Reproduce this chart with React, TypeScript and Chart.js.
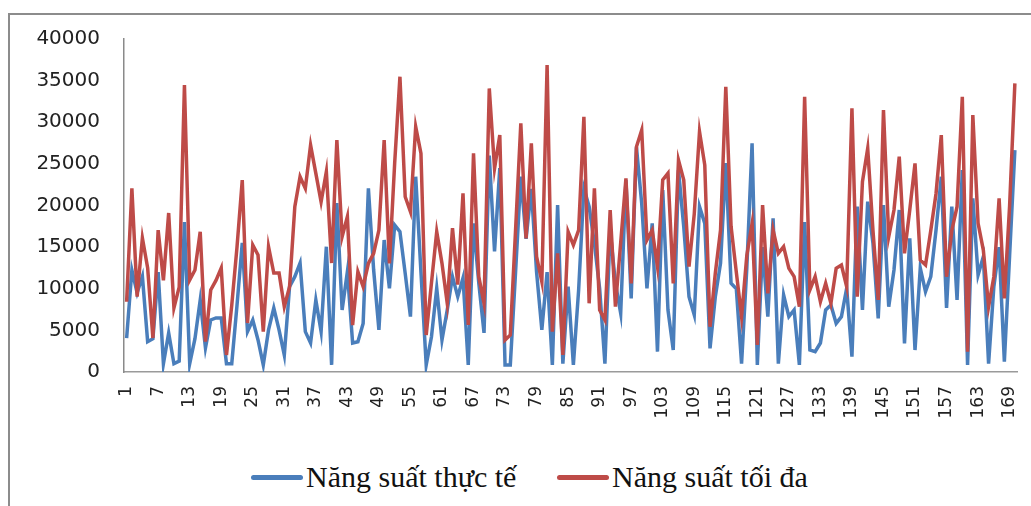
import React, { useEffect, useRef } from "react";
import { Chart, registerables } from "chart.js";

Chart.register(...registerables);

const seriesNames = ["Năng suất thực tế", "Năng suất tối đa"];
const seriesColors = ["#4A7EBB", "#BE4B48"];

const categories: string[] = Array.from({ length: 170 }, (_, i) => String(i + 1));

const actual = [
  4080, 12250, 9500, 11500, 3640, 4000, 12000, 1000, 4700, 1000,
  1300, 18000, 1000, 4000, 8650, 2900, 6250, 6500, 6500, 1000,
  1000, 8000, 15500, 4850, 6250, 3850, 850, 5050, 7690, 5050,
  2040, 10250, 11450, 13090, 4850, 3480, 8650, 4850, 15050, 850,
  20300, 7450, 12050, 3480, 3640, 5840, 22060, 12250, 5050, 15850,
  10050, 17650, 16850, 11850, 6650, 23460, 12000, 850, 4240, 10050,
  3850, 7450, 11450, 9050, 11290, 850, 17850, 10700, 4700, 26000,
  14500, 24500, 850, 850, 12000, 23460, 16000, 22000, 12000, 5050,
  12000, 850, 20050, 1000, 10250, 850, 9850, 22060, 19860, 15450,
  10000, 1000, 17050, 10650, 7050, 23060, 8850, 27000, 20260, 10050,
  17850, 2440, 21860, 7450, 2640, 24260, 17450, 9050, 6850, 19860,
  17850, 2840, 9000, 13090, 25100, 10650, 10000, 1000, 12500, 27460,
  850, 15000, 6650, 18460, 1000, 9250, 6650, 7450, 850, 18000,
  2640, 2440, 3480, 7450, 8050, 5840, 6650, 10050, 1840, 19860,
  7450, 20460, 15450, 6450, 20060, 7850, 12250, 19460, 3440, 16050,
  2640, 12490, 9650, 11450, 17050, 23460, 7690, 19860, 8650, 24260,
  850, 20860, 11650, 13850, 1000, 10250, 15000, 1240, 14000, 26660,
];

const maximum = [
  8440, 22060, 9050, 16090, 12500, 4080, 17050, 11000, 19100, 7700,
  10200, 34470, 11050, 12250, 16850, 3640, 9850, 11000, 12490, 2040,
  8000, 15000, 23060, 5880, 15250, 14050, 4850, 15050, 11890, 11890,
  7850, 10250, 19860, 23460, 22060, 27260, 23860, 20450, 24060, 13090,
  27860, 16250, 18660, 5640, 12050, 10250, 13050, 14250, 17050, 27860,
  13050, 25100, 35470, 21050, 19250, 29460, 26260, 4440, 10700, 16850,
  13050, 8250, 17290, 10500, 21450, 5640, 26260, 11450, 8250, 34060,
  24460, 28460, 3850, 4440, 17050, 29860, 16050, 27460, 13850, 10850,
  36870, 4850, 14250, 2040, 16850, 15250, 17050, 30660, 8250, 22060,
  7450, 6250, 19460, 7850, 15500, 23260, 10650, 27060, 29060, 15850,
  17050, 12650, 23060, 23860, 10650, 25460, 23060, 12650, 19000, 28860,
  24860, 5440, 11850, 17050, 34270, 17500, 12000, 6650, 14000, 17850,
  3240, 20060, 9450, 17050, 14250, 15050, 12450, 11450, 7850, 33060,
  9850, 11450, 8450, 10650, 8250, 12450, 12850, 10250, 31670, 9050,
  22860, 26860, 17000, 8650, 31460, 16250, 19460, 25860, 14250, 19460,
  25060, 13450, 12850, 17000, 21450, 28460, 11450, 17000, 19860, 33060,
  2440, 30860, 17850, 14650, 7850, 11450, 20860, 8850, 20000, 34670,
];

const yMin = 0;
const yMax = 40000;
const yStep = 5000;
const labelEvery = 6;

export default function App() {
  const canvasRef = useRef<HTMLCanvasElement | null>(null);

  useEffect(() => {
    if (!canvasRef.current) return;
    const chart = new Chart(canvasRef.current, {
      type: "line",
      data: {
        labels: categories,
        datasets: [
          {
            label: seriesNames[0],
            data: actual,
            borderColor: seriesColors[0],
            backgroundColor: seriesColors[0],
            borderWidth: 3.5,
            pointRadius: 0,
            tension: 0,
            order: 1,
          },
          {
            label: seriesNames[1],
            data: maximum,
            borderColor: seriesColors[1],
            backgroundColor: seriesColors[1],
            borderWidth: 3.5,
            pointRadius: 0,
            tension: 0,
            order: 0,
          },
        ],
      },
      options: {
        animation: false,
        responsive: false,
        devicePixelRatio: 1,
        layout: { padding: { top: 24, right: 13.5, left: 0, bottom: 0 } },
        plugins: { legend: { display: false }, tooltip: { enabled: false } },
        scales: {
          x: {
            offset: true,
            grid: { display: false, drawTicks: false },
            border: { display: true, color: "#9a9a9a", width: 1.5 },
            ticks: {
              autoSkip: false,
              minRotation: 90,
              maxRotation: 90,
              padding: 14,
              color: "#222",
              font: { family: "DejaVu Sans", size: 17 },
              callback: (_v: any, i: number) => (i % labelEvery === 0 ? categories[i] : null),
            },
            afterFit: (s: any) => {
              s.height = 63;
              s.paddingLeft = 0;
              s.paddingRight = 0;
            },
          },
          y: {
            min: yMin,
            max: yMax,
            grid: { display: false, drawTicks: false },
            border: { display: true, color: "#8a8a8a", width: 1.5 },
            ticks: {
              stepSize: yStep,
              padding: 24,
              color: "#222",
              font: { family: "DejaVu Sans", size: 20 },
              callback: (v: any) => String(v),
            },
            afterFit: (s: any) => {
              s.width = 114;
              s.paddingTop = 0;
              s.paddingBottom = 0;
            },
          },
        },
      },
    });
    return () => chart.destroy();
  }, []);

  const legendText: React.CSSProperties = {
    position: "absolute",
    top: 447,
    fontFamily: "'Liberation Serif', 'Times New Roman', serif",
    fontSize: 30,
    lineHeight: "30px",
    color: "#111",
    whiteSpace: "nowrap",
  };
  const swatch: React.CSSProperties = {
    position: "absolute",
    top: 460,
    width: 52,
    height: 5,
    borderRadius: 2.5,
  };

  return (
    <div
      style={{
        position: "fixed",
        left: 8,
        top: 13,
        width: 1023,
        height: 493,
        borderLeft: "2px solid #8c8c8c",
        borderTop: "2px solid #8c8c8c",
        boxSizing: "border-box",
        background: "#fff",
      }}
    >
      <canvas
        ref={canvasRef}
        width={1021}
        height={420}
        style={{ position: "absolute", left: 0, top: 0, width: 1021, height: 420 }}
      />
      <div style={{ ...swatch, left: 241, background: seriesColors[0] }} />
      <span style={{ ...legendText, left: 296 }}>{seriesNames[0]}</span>
      <div style={{ ...swatch, left: 547, background: seriesColors[1] }} />
      <span style={{ ...legendText, left: 602 }}>{seriesNames[1]}</span>
    </div>
  );
}
